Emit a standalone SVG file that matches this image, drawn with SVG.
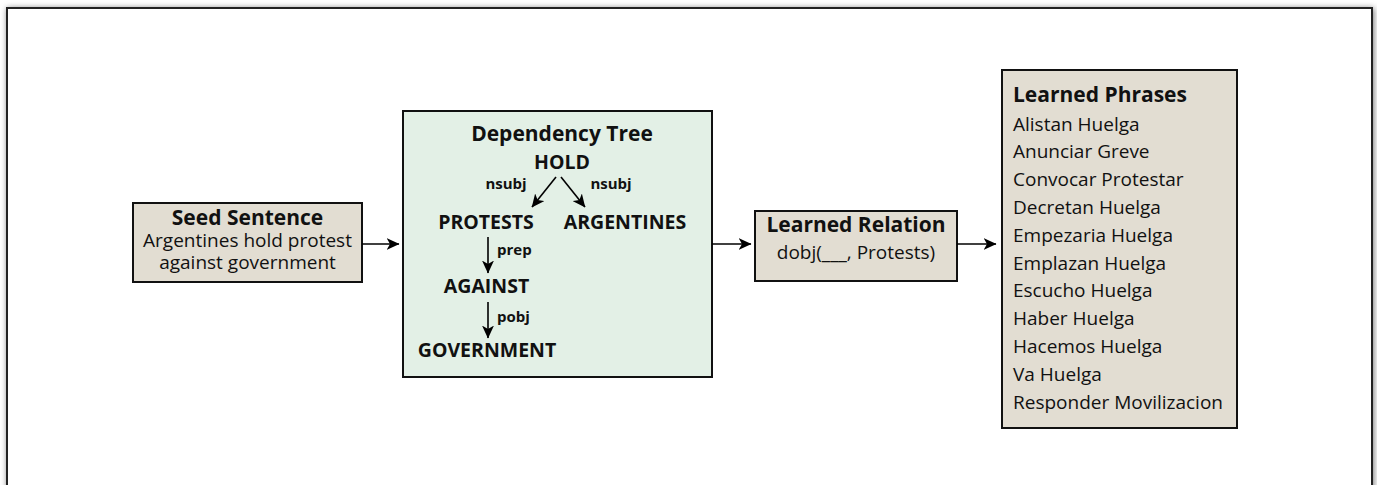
<svg xmlns="http://www.w3.org/2000/svg" width="1377" height="485" viewBox="0 0 1377 485">
<defs>
<marker id="ah" viewBox="0 0 13 12" refX="12.5" refY="6" markerWidth="13" markerHeight="12" markerUnits="userSpaceOnUse" orient="auto">
<path d="M0,0 L13,6 L0,12 L3.5,6 Z" fill="#000"/>
</marker>
<filter id="sh" x="-5%" y="-5%" width="110%" height="110%">
<feGaussianBlur stdDeviation="3"/>
</filter>
</defs>
<style>
text{font-family:"Open Sans","Liberation Sans",sans-serif;fill:#111}
.b{font-weight:bold}
.t{font-size:21px}
.s{font-size:19px}
.lab{font-size:15px;font-weight:bold}
.node{font-size:19.5px;font-weight:bold}
.box{stroke:#111;stroke-width:2}
.beige{fill:#e2ddd2}
.green{fill:#e3f0e6}
.conn{stroke:#000;stroke-width:1.6;fill:none;marker-end:url(#ah)}
</style>
<rect width="1377" height="485" fill="#fff"/>
<rect x="7" y="8" width="1367" height="500" fill="#777" filter="url(#sh)"/>
<rect x="7" y="8" width="1365" height="500" fill="#fff" stroke="#222" stroke-width="2"/>

<g id="seed">
<rect class="box beige" x="133" y="203" width="229" height="79"/>
<text class="t b" x="247.5" y="225" text-anchor="middle">Seed Sentence</text>
<text class="s" x="247.5" y="247" text-anchor="middle">Argentines hold protest</text>
<text class="s" x="247.5" y="269" text-anchor="middle">against government</text>
</g>

<g id="tree">
<rect class="box green" x="403" y="111" width="309" height="266"/>
<text class="t b" x="562" y="141" text-anchor="middle">Dependency Tree</text>
<text class="node" x="562" y="169" text-anchor="middle">HOLD</text>
<text class="lab" x="506" y="189" text-anchor="middle">nsubj</text>
<text class="lab" x="611" y="189" text-anchor="middle">nsubj</text>
<text class="node" x="486" y="229" text-anchor="middle">PROTESTS</text>
<text class="node" x="625" y="229" text-anchor="middle">ARGENTINES</text>
<text class="lab" x="497" y="255">prep</text>
<text class="node" x="486.5" y="293" text-anchor="middle">AGAINST</text>
<text class="lab" x="497" y="322">pobj</text>
<text class="node" x="487" y="357" text-anchor="middle">GOVERNMENT</text>
</g>

<g id="relation">
<rect class="box beige" x="755" y="211" width="202" height="70"/>
<text class="t b" x="856" y="232" text-anchor="middle">Learned Relation</text>
<text class="s" x="856" y="259" text-anchor="middle">dobj(___, Protests)</text>
</g>

<g id="phrases">
<rect class="box beige" x="1002" y="70" width="235" height="358"/>
<text class="t b" x="1013" y="102">Learned Phrases</text>
<text class="s" x="1013" y="130.5">Alistan Huelga</text>
<text class="s" x="1013" y="158.3">Anunciar Greve</text>
<text class="s" x="1013" y="186.1">Convocar Protestar</text>
<text class="s" x="1013" y="213.9">Decretan Huelga</text>
<text class="s" x="1013" y="241.7">Empezaria Huelga</text>
<text class="s" x="1013" y="269.5">Emplazan Huelga</text>
<text class="s" x="1013" y="297.3">Escucho Huelga</text>
<text class="s" x="1013" y="325.1">Haber Huelga</text>
<text class="s" x="1013" y="352.9">Hacemos Huelga</text>
<text class="s" x="1013" y="380.7">Va Huelga</text>
<text class="s" x="1013" y="408.5">Responder Movilizacion</text>
</g>

<g id="connectors">
<line class="conn" x1="362" y1="244" x2="399" y2="244"/>
<line class="conn" x1="712" y1="244" x2="751" y2="244"/>
<line class="conn" x1="957" y1="244" x2="996" y2="244"/>
<line class="conn" x1="556" y1="177" x2="532" y2="207"/>
<line class="conn" x1="561" y1="177" x2="585" y2="207"/>
<line class="conn" x1="488" y1="237" x2="488" y2="273"/>
<line class="conn" x1="488" y1="302" x2="488" y2="338"/>
</g>
</svg>
